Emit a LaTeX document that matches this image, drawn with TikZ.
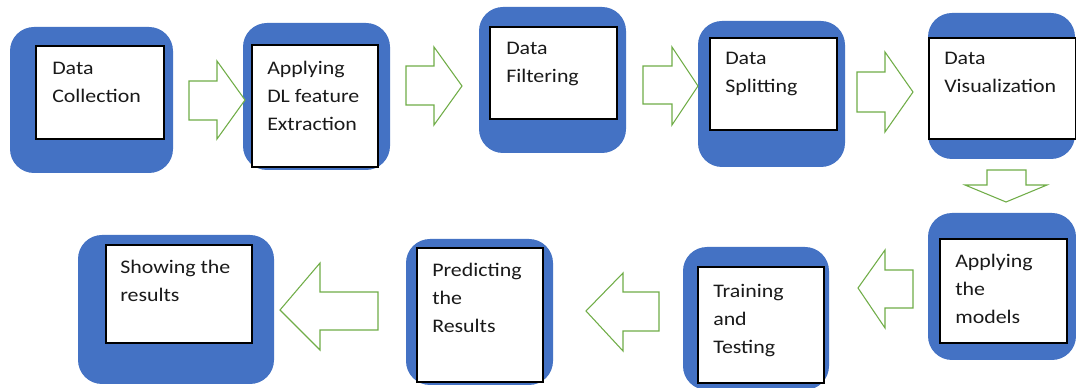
\documentclass[tikz,border=0pt]{standalone}
\usepackage{fontspec}
\setmainfont{Carlito}[FakeStretch=1.14]
\usetikzlibrary{fit}
\definecolor{stepblue}{HTML}{4472C4}
\definecolor{arrowgreen}{HTML}{70AD47}
\definecolor{steptextcolor}{HTML}{1A1A1A}
% stacked lines whose reference point is the first baseline
\newcommand\steplines[1]{\vtop{\baselineskip=21pt\lineskiplimit=-100pt\halign{##\hfil\cr#1\crcr}}}
\begin{document}
\begin{tikzpicture}[x=0.75pt,y=-0.75pt,
  outerbox/.style={fill=stepblue,draw=none,rounded corners=18pt,inner sep=0pt},
  innerbox/.style={fill=white,draw=black,line width=0.9pt,inner sep=0pt},
  steptext/.style={anchor=base west,inner sep=0pt,text=steptextcolor,font=\fontsize{14.4pt}{21pt}\selectfont},
  blockarrow/.style={draw=arrowgreen,fill=white,line width=0.8pt,line join=miter}]
\useasboundingbox[fill=white] (0,0) rectangle (1076,388);

% top row
\node[outerbox,fit={(10,27)(173,173)}] (b1) {};
\node[innerbox,fit={(36,46)(164,139)}] (w1) {};
\node[steptext] (t1) at (52,75) {\steplines{Data\cr Collection}};

\node[outerbox,fit={(243,23)(390,170)}] (b2) {};
\node[innerbox,fit={(252,45)(378,167)}] (w2) {};
\node[steptext] (t2) at (267,75) {\steplines{Applying\cr DL feature\cr Extraction}};

\node[outerbox,fit={(479,7)(626,153)}] (b3) {};
\node[innerbox,fit={(490,27)(617,119)}] (w3) {};
\node[steptext] (t3) at (506,55) {\steplines{Data\cr Filtering}};

\node[outerbox,fit={(698,21)(845,167)}] (b4) {};
\node[innerbox,fit={(710,38)(837,130)}] (w4) {};
\node[steptext] (t4) at (725,65) {\steplines{Data\cr Splitting}};

\node[outerbox,fit={(928,13)(1075,159)}] (b5) {};
\node[innerbox,fit={(929,38)(1075.5,139)}] (w5) {};
\node[steptext] (t5) at (944,65) {\steplines{Data\cr Visualization}};

% bottom row
\node[outerbox,fit={(928,213)(1076,360)}] (b6) {};
\node[innerbox,fit={(940,239)(1067,343)}] (w6) {};
\node[steptext] (t6) at (955,268) {\steplines{Applying\cr the\cr models}};

\node[outerbox,fit={(683,247)(829,390)}] (b7) {};
\node[innerbox,fit={(698,267)(824,383)}] (w7) {};
\node[steptext] (t7) at (713,298) {\steplines{Training\cr and\cr Testing}};

\node[outerbox,fit={(406,239)(553,385)}] (b8) {};
\node[innerbox,fit={(417,248)(543,382)}] (w8) {};
\node[steptext] (t8) at (432,277) {\steplines{Predicting\cr the\cr Results}};

\node[outerbox,fit={(78,235)(274,384)}] (b9) {};
\node[innerbox,fit={(106,245)(252,343)}] (w9) {};
\node[steptext] (t9) at (120,274) {\steplines{Showing the\cr results}};

% block arrows pointing right
\draw[blockarrow] (189,81) -- (217,81) -- (217,61) -- (245,100) -- (217,139) -- (217,120) -- (189,120) -- cycle;
\draw[blockarrow] (406,66) -- (434,66) -- (434,47) -- (462,86) -- (434,125) -- (434,105) -- (406,105) -- cycle;
\draw[blockarrow] (643,66) -- (672,66) -- (672,47) -- (698,86) -- (672,125) -- (672,104) -- (643,104) -- cycle;
\draw[blockarrow] (857,72) -- (885,72) -- (885,52) -- (913,92) -- (885,132) -- (885,112) -- (857,112) -- cycle;
% block arrow pointing down
\draw[blockarrow] (987,170) -- (1026,170) -- (1026,185) -- (1047,185) -- (1006,202) -- (965,185) -- (987,185) -- cycle;
% block arrows pointing left
\draw[blockarrow] (913,270) -- (885,270) -- (885,250) -- (858,288) -- (885,328) -- (885,308) -- (913,308) -- cycle;
\draw[blockarrow] (659,292) -- (623,292) -- (623,273) -- (586,311) -- (623,351) -- (623,331) -- (659,331) -- cycle;
\draw[blockarrow] (378,292) -- (320,292) -- (320,263) -- (280,310) -- (320,350) -- (320,330) -- (378,330) -- cycle;
\end{tikzpicture}
\end{document}
